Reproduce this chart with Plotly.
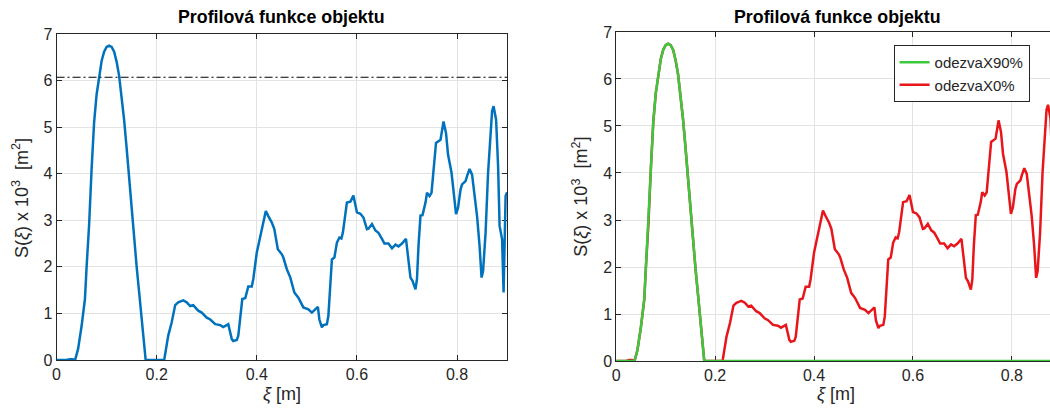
import plotly.graph_objects as go

# --- data ---
xi = [0, 0.02, 0.026, 0.032, 0.037, 0.043, 0.05, 0.0567, 0.06, 0.065, 0.07, 0.075, 0.08, 0.085,
      0.09, 0.095, 0.1, 0.105, 0.11, 0.115, 0.12, 0.125, 0.13, 0.135, 0.14, 0.145, 0.15, 0.155,
      0.16, 0.165, 0.17, 0.174, 0.178, 0.215, 0.223, 0.23, 0.237, 0.243, 0.253, 0.26, 0.267,
      0.273, 0.283, 0.29, 0.3, 0.307, 0.317, 0.327, 0.333, 0.343, 0.35, 0.353, 0.36, 0.363,
      0.367, 0.371, 0.377, 0.38, 0.383, 0.39, 0.393, 0.4, 0.407, 0.413, 0.418, 0.423, 0.43,
      0.435, 0.442, 0.45, 0.453, 0.46, 0.467, 0.475, 0.483, 0.493, 0.503, 0.51, 0.517, 0.522,
      0.525, 0.53, 0.533, 0.54, 0.543, 0.547, 0.55, 0.555, 0.56, 0.565, 0.569, 0.572, 0.577,
      0.58, 0.587, 0.593, 0.6, 0.607, 0.613, 0.62, 0.623, 0.63, 0.637, 0.643, 0.65, 0.655,
      0.663, 0.67, 0.677, 0.683, 0.69, 0.698, 0.707, 0.711, 0.717, 0.72, 0.723, 0.727, 0.731,
      0.737, 0.74, 0.745, 0.749, 0.753, 0.758, 0.767, 0.77, 0.773, 0.778, 0.782, 0.789, 0.793,
      0.798, 0.802, 0.807, 0.81, 0.817, 0.82, 0.825, 0.83, 0.835, 0.84, 0.845, 0.849, 0.852,
      0.857, 0.862, 0.867, 0.87, 0.873, 0.878, 0.882, 0.885, 0.89, 0.893, 0.897, 0.9]
S = [0, 0, 0.02, 0.02, 0, 0.24, 0.73, 1.31, 2.0, 2.9, 4.1, 5.1, 5.7, 6.12,
     6.42, 6.62, 6.72, 6.75, 6.72, 6.62, 6.4, 6.1, 5.65, 5.15, 4.55, 3.9, 3.15, 2.5,
     2.0, 1.45, 0.85, 0.35, 0, 0, 0.52, 0.81, 1.18, 1.24, 1.28, 1.24, 1.16,
     1.18, 1.06, 1.02, 0.91, 0.87, 0.77, 0.75, 0.71, 0.77, 0.45, 0.41, 0.43, 0.52,
     0.87, 1.31, 1.33, 1.45, 1.58, 1.58, 1.74, 2.31, 2.66, 3.02, 3.2, 3.09, 2.95,
     2.81, 2.38, 2.27, 2.2, 1.95, 1.77, 1.45, 1.34, 1.13, 1.09, 1.02, 1.09, 1.14,
     0.87, 0.7, 0.75, 0.77, 0.95, 1.59, 2.16, 2.2, 2.52, 2.63, 2.61, 2.74, 3.16,
     3.38, 3.4, 3.53, 3.17, 3.14, 3.06, 2.81, 2.82, 2.92, 2.78, 2.73, 2.6, 2.5,
     2.5, 2.4, 2.48, 2.44, 2.5, 2.6, 1.77, 1.7, 1.52, 1.74, 2.45, 3.1, 3.11,
     3.38, 3.59, 3.52, 3.59, 4.16, 4.66, 4.73, 4.95, 5.12, 4.87, 4.41, 4.02, 3.59,
     3.13, 3.27, 3.66, 3.77, 3.84, 3.95, 4.1, 3.98, 3.59, 3.09, 2.45, 1.77, 1.91,
     2.73, 4.02, 4.95, 5.34, 5.45, 5.16, 4.16, 2.88, 2.59, 1.45, 3.52, 3.6]

green_xi = [0, 0.037, 0.043, 0.05, 0.0567, 0.06, 0.065, 0.07, 0.075, 0.08, 0.085, 0.09, 0.095,
            0.1, 0.105, 0.11, 0.115, 0.12, 0.125, 0.13, 0.135, 0.14, 0.145, 0.15, 0.155, 0.16,
            0.165, 0.17, 0.174, 0.178, 0.9]
green_S = [0, 0, 0.24, 0.73, 1.31, 2.0, 2.9, 4.1, 5.1, 5.7, 6.12, 6.42, 6.62,
           6.72, 6.75, 6.72, 6.62, 6.4, 6.1, 5.65, 5.15, 4.55, 3.9, 3.15, 2.5, 2.0,
           1.45, 0.85, 0.35, 0, 0]

threshold = 6.07
x_ticks = [0, 0.2, 0.4, 0.6, 0.8]
y_ticks = [0, 1, 2, 3, 4, 5, 6, 7]
title_text = "Profilová funkce objektu"
x_label = "<i>ξ</i> [m]"
y_label = "S(<i>ξ</i>) x 10<sup>3</sup>  [m<sup>2</sup>]"
legend_names = ["odezvaX90%", "odezvaX0%"]

BLUE = "#0072BD"
GREEN = "#3CC83C"
RED = "#E8161B"
AX = "#262626"
GRID = "#E3E3E3"
FONT = "Liberation Sans, Arial, Helvetica, sans-serif"
W, H = 1050, 409

# the photographed page maps figure px to picture px as
# xs = 2.5 + 0.995*xf, ys = 8 + 0.961*yf ; invert to place things at picture px
def px_x(p):
    return min(1.0, max(0.0, (p - 2.5) / 0.995 / W))

def px_y(p):
    return min(1.0, max(0.0, 1 - ((p - 8) / 0.961) / H))

fig = go.Figure()

# left panel
fig.add_trace(go.Scatter(x=xi, y=S, mode="lines", line=dict(color=BLUE, width=2.5),
                         showlegend=False, xaxis="x", yaxis="y"))
fig.add_trace(go.Scatter(x=[0, 0.9], y=[threshold, threshold], mode="lines",
                         line=dict(color="black", width=1, dash="8px,3px,2px,3px"),
                         showlegend=False, xaxis="x", yaxis="y"))
# right panel
fig.add_trace(go.Scatter(x=xi, y=S, mode="lines", line=dict(color=RED, width=2.5),
                         name=legend_names[1], legendrank=2, xaxis="x2", yaxis="y2"))
fig.add_trace(go.Scatter(x=green_xi, y=green_S, mode="lines", line=dict(color=GREEN, width=2.5),
                         name=legend_names[0], legendrank=1, xaxis="x2", yaxis="y2"))

axis_common = dict(
    showline=True, linecolor=AX, linewidth=1, ticks="inside", ticklen=5, tickcolor=AX,
    showgrid=True, gridcolor=GRID, gridwidth=1, zeroline=False, layer="below traces",
    tickfont=dict(family=FONT, size=16, color=AX),
)

right_end_px = 2.5 + 0.995 * W
fig.update_layout(
    width=W, height=H, margin=dict(l=0, r=0, t=0, b=0),
    paper_bgcolor="white", plot_bgcolor="white",
    xaxis=dict(domain=[px_x(55), px_x(505)], range=[0, 0.9], tickvals=x_ticks,
               mirror="ticks", anchor="y", **axis_common),
    yaxis=dict(domain=[px_y(361), px_y(34)], range=[0, 7], tickvals=y_ticks,
               mirror="ticks", anchor="x", **axis_common),
    xaxis2=dict(domain=[px_x(614), 1.0], range=[0, (right_end_px - 614) / 494], tickvals=x_ticks,
                mirror="ticks", anchor="y2", **axis_common),
    yaxis2=dict(domain=[px_y(362), px_y(32)], range=[0, 7], tickvals=y_ticks,
                mirror=False, anchor="x2", **axis_common),
    legend=dict(x=px_x(891), y=px_y(45), xanchor="left", yanchor="top",
                bgcolor="white", bordercolor=AX, borderwidth=1, itemwidth=30,
                font=dict(family=FONT, size=15, color=AX), tracegroupgap=0),
    showlegend=True,
)

annots = [
    dict(x=px_x(280), y=px_y(17), text="<b>" + title_text + "</b>", font=dict(size=17.8, color="black")),
    dict(x=px_x(835), y=px_y(17), text="<b>" + title_text + "</b>", font=dict(size=17.8, color="black")),
    dict(x=px_x(280), y=px_y(395), text=x_label, font=dict(size=18, color=AX)),
    dict(x=px_x(834), y=px_y(395), text=x_label, font=dict(size=18, color=AX)),
    dict(x=px_x(19), y=px_y(199), text=y_label, textangle=-90, font=dict(size=18, color=AX)),
    dict(x=px_x(578), y=px_y(197), text=y_label, textangle=-90, font=dict(size=18, color=AX)),
]
for a in annots:
    a.update(xref="paper", yref="paper", showarrow=False, xanchor="center", yanchor="middle")
    a["font"]["family"] = FONT
    fig.add_annotation(**a)

fig.write_html("out.html")
